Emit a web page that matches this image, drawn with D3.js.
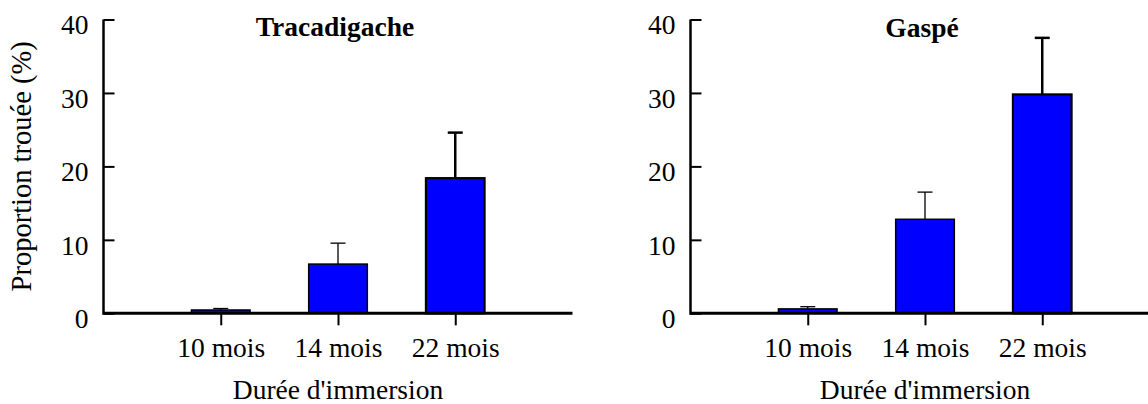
<!DOCTYPE html>
<html>
<head>
<meta charset="utf-8">
<script src="https://cdn.jsdelivr.net/npm/d3@7"></script>
<style>
  html, body { margin: 0; padding: 0; background: #fff; }
  svg { display: block; }
  text { font-family: "Liberation Serif", "Times New Roman", "DejaVu Serif", serif; fill: #000; }
</style>
</head>
<body>
<svg id="chart" width="1148" height="404"></svg>
<script>
// ---- data ----
const categories = ["10 mois", "14 mois", "22 mois"];
const panelTitles = ["Tracadigache", "Gaspé"];
const tracadigacheValues = [0.45, 6.7, 18.4];
const tracadigacheErrors = [0.2, 2.85, 6.2];
const gaspeValues = [0.6, 12.8, 29.8];
const gaspeErrors = [0.3, 3.7, 7.7];
const yTicks = [0, 10, 20, 30, 40];
const yAxisTitle = "Proportion trouée (%)";
const xAxisTitle = "Durée d'immersion";

const panels = [
  { title: panelTitles[0], values: tracadigacheValues, errors: tracadigacheErrors, x0: 103.5, showYTitle: true, titleY: 36 },
  { title: panelTitles[1], values: gaspeValues, errors: gaspeErrors, x0: 690.5, showYTitle: false, titleY: 37 }
];

const svg = d3.select("#chart");
const FS = 27.5;
const plotW = 469;
const yTop = 19.5, yBottom = 313.3;

const y = d3.scaleLinear().domain([0, 40]).range([yBottom, yTop]);

panels.forEach(p => {
  const g = svg.append("g");
  const x = d3.scalePoint().domain(categories).range([p.x0, p.x0 + plotW]).padding(1);
  const step = x.step();
  const bw = step / 2;

  // bars
  g.selectAll("rect.bar").data(p.values).enter().append("rect")
    .attr("class", "bar")
    .attr("x", (d, i) => x(categories[i]) - bw / 2)
    .attr("y", d => y(d))
    .attr("width", bw)
    .attr("height", d => y(0) - y(d))
    .attr("fill", "#0000ff")
    .attr("stroke", "#000")
    .attr("stroke-width", (d, i) => i === 2 ? 2.2 : 1.5);

  // error bars
  const capW = 15;
  p.values.forEach((v, i) => {
    const cx = x(categories[i]);
    const top = y(v + p.errors[i]);
    const sw = i === 2 ? 2.5 : 1.3;
    g.append("line").attr("x1", cx).attr("x2", cx).attr("y1", y(v)).attr("y2", top)
      .attr("stroke", "#000").attr("stroke-width", sw);
    g.append("line").attr("x1", cx - capW / 2).attr("x2", cx + capW / 2).attr("y1", top).attr("y2", top)
      .attr("stroke", "#000").attr("stroke-width", sw);
  });

  // x axis
  const xAxis = d3.axisBottom(x).tickSize(12).tickPadding(10).tickSizeOuter(0);
  const xg = g.append("g").attr("transform", `translate(0,${yBottom})`).call(xAxis);
  xg.attr("font-family", null);
  xg.select(".domain").remove();
  xg.append("line").attr("x1", p.x0).attr("x2", p.x0 + plotW).attr("y1", 0).attr("y2", 0)
    .attr("stroke", "#000").attr("stroke-width", 3);
  xg.selectAll(".tick line").attr("stroke", "#000").attr("stroke-width", 2);
  xg.selectAll(".tick text").attr("font-size", FS)
    .attr("y", 0).attr("dy", 0).attr("transform", "translate(0,44)");

  // y axis (ticks inward)
  const yAxis = d3.axisLeft(y).tickValues(yTicks).tickSize(-11).tickPadding(26).tickSizeOuter(0);
  const yg = g.append("g").attr("transform", `translate(${p.x0},0)`).call(yAxis);
  yg.attr("font-family", null);
  yg.select(".domain").remove();
  yg.append("line").attr("x1", 0).attr("x2", 0).attr("y1", yTop).attr("y2", yBottom + 1.5)
    .attr("stroke", "#000").attr("stroke-width", 2.5);
  yg.selectAll(".tick line").attr("stroke", "#000").attr("stroke-width", 2);
  yg.selectAll(".tick text").attr("font-size", FS)
    .attr("x", -15).attr("dy", 0).attr("y", 14.3);

  // title
  g.append("text").attr("x", x(categories[1]) - 3).attr("y", p.titleY)
    .attr("text-anchor", "middle").attr("font-weight", "bold").attr("font-size", FS)
    .text(p.title);

  // x axis title
  g.append("text").attr("x", x(categories[1])).attr("y", 399)
    .attr("text-anchor", "middle").attr("font-size", FS).text(xAxisTitle);

  if (p.showYTitle) {
    g.append("text").attr("transform", `translate(31,${(yTop + yBottom) / 2}) rotate(-90)`)
      .attr("text-anchor", "middle").attr("font-size", 28.5).text(yAxisTitle);
  }
});
</script>
</body>
</html>
